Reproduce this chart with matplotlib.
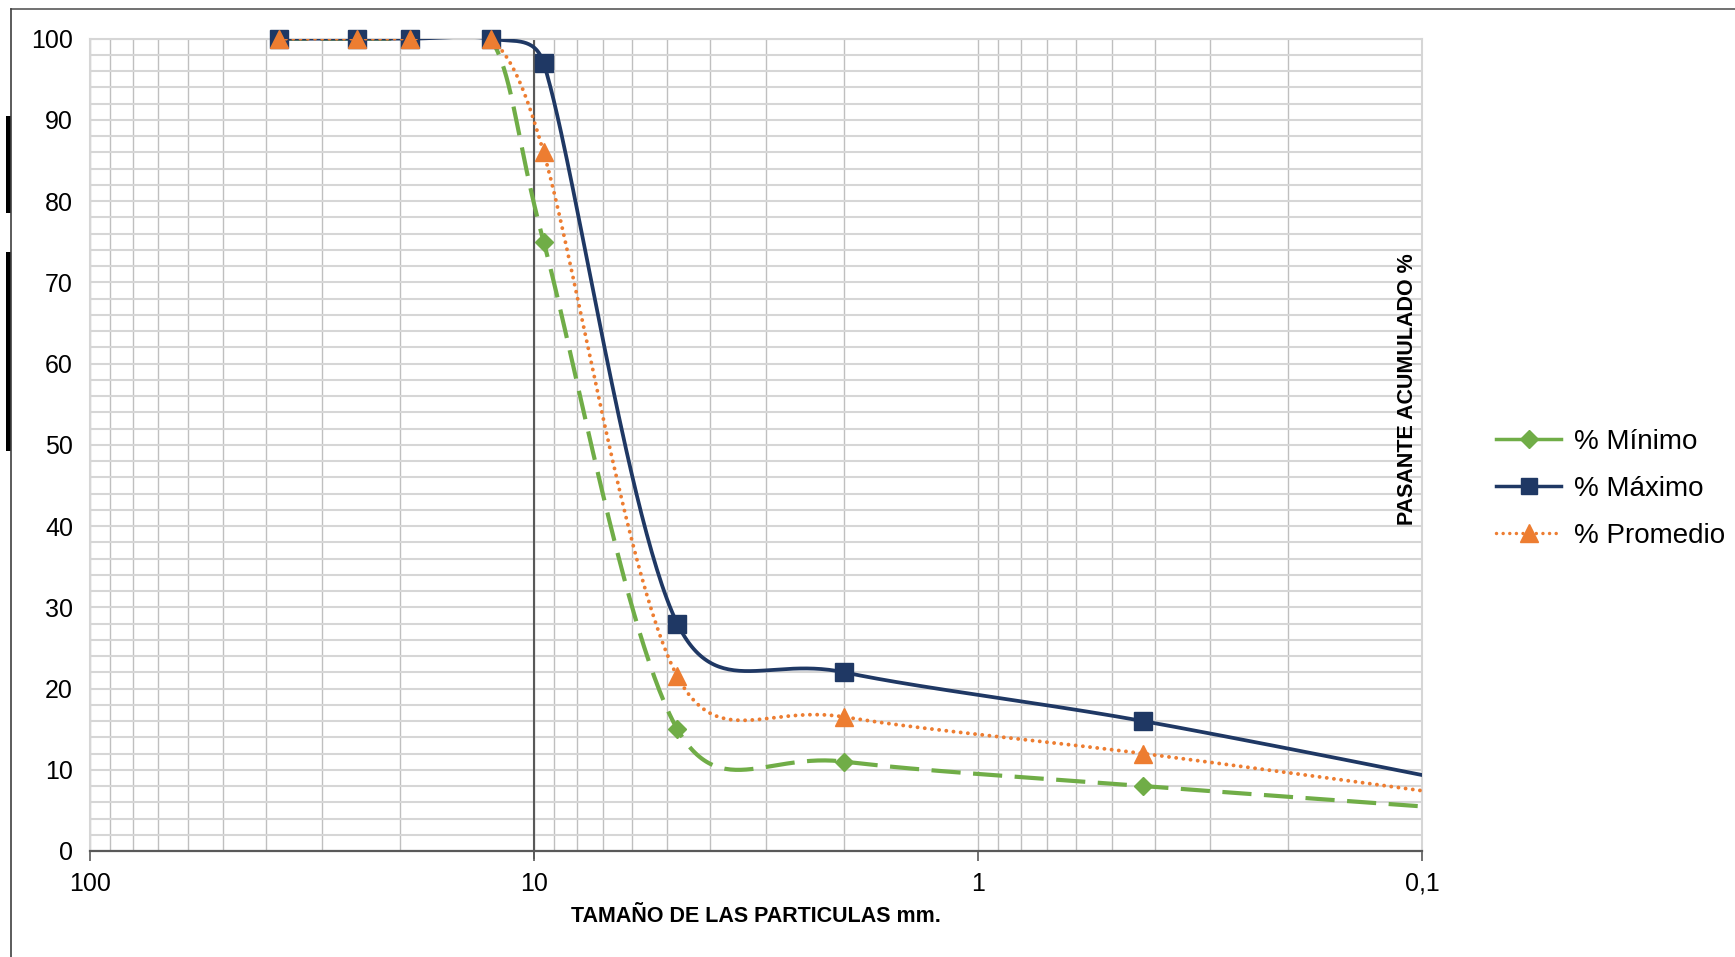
import numpy as np
import matplotlib
matplotlib.use("Agg")
import matplotlib.pyplot as plt
from matplotlib.ticker import FixedLocator, FixedFormatter, MultipleLocator, LogLocator, NullFormatter
from matplotlib.lines import Line2D
from matplotlib.patches import Rectangle

# ---------------- data ----------------
sizes_mm = [37.5, 25, 19, 12.5, 9.5, 4.75, 2.0, 0.425, 0.075]
pct_min = [100, 100, 100, 100, 75, 15, 11, 8, 5]
pct_max = [100, 100, 100, 100, 97, 28, 22, 16, 8]
pct_prom = [100, 100, 100, 100, 86, 21.5, 16.5, 12, 6.5]
series_names = ["% Mínimo", "% Máximo", "% Promedio"]
xtick_vals = [100, 10, 1, 0.1]
xtick_labels = ["100", "10", "1", "0,1"]
ytick_vals = [0, 10, 20, 30, 40, 50, 60, 70, 80, 90, 100]
xlabel = "TAMAÑO DE LAS PARTICULAS mm."
ylabel = "PASANTE ACUMULADO %"

# ---------------- style ----------------
GREEN = "#70AD47"
NAVY = "#1F3864"
ORANGE = "#ED7D31"
AXC = "#595959"
plt.rcParams["font.family"] = ["Liberation Sans", "DejaVu Sans"]

W, H = 1735, 957
fig = plt.figure(figsize=(W / 100, H / 100), dpi=100)
L, R, T, B = 89.6, 1422, 38.7, 851
ax = fig.add_axes([L / W, 1 - B / H, (R - L) / W, (B - T) / H])
ax.set_xscale("log")
ax.set_xlim(100, 0.1)
ax.set_ylim(0, 100)

ax.xaxis.set_major_locator(FixedLocator(xtick_vals))
ax.xaxis.set_major_formatter(FixedFormatter(xtick_labels))
ax.xaxis.set_minor_locator(LogLocator(base=10, subs=range(2, 10), numticks=20))
ax.xaxis.set_minor_formatter(NullFormatter())
ax.yaxis.set_major_locator(FixedLocator(ytick_vals))
ax.yaxis.set_minor_locator(MultipleLocator(2))
ax.set_axisbelow(True)
ax.grid(which="both", axis="x", color="#bfbfbf", lw=1.0)
ax.grid(which="both", axis="y", color="#d6d6d6", lw=1.5)
ax.tick_params(axis="x", which="minor", length=0)
ax.tick_params(axis="x", which="major", length=7, width=1.2, color=AXC, pad=8, labelsize=18)
ax.tick_params(axis="y", which="both", length=0, pad=12, labelsize=18)
for s in ["left", "right", "top"]:
    ax.spines[s].set_color("#d6d6d6")
    ax.spines[s].set_linewidth(1.5)
ax.spines["bottom"].set_color(AXC)
ax.spines["bottom"].set_linewidth(1.6)

# vertical axis line crossing at 10 with its tick marks
ax.axvline(xtick_vals[1], color=AXC, lw=1.5, zorder=2)
ax.plot(np.full(len(ytick_vals), float(xtick_vals[1])), ytick_vals, ls="none",
        marker=3, ms=5.5, mew=1.2, color=AXC, zorder=2, clip_on=False)


def excel_smooth(xs, ys, n=60):
    P = ax.transData.transform(np.column_stack([xs, ys]))
    out = [P[0]]
    m = len(P)
    t = np.linspace(0, 1, n)[1:, None]
    for i in range(m - 1):
        p0 = P[i - 1] if i > 0 else P[i]
        p1, p2 = P[i], P[i + 1]
        p3 = P[i + 2] if i + 2 < m else P[i + 1]
        d12 = np.hypot(*(p2 - p1))
        d02 = np.hypot(*(p2 - p0))
        d13 = np.hypot(*(p3 - p1))
        f0 = f3 = 1 / 6
        if d02 > 0 and d02 / 6 >= d12 / 2:
            f0 = d12 / d02 / 2
        if d13 > 0 and d13 / 6 >= d12 / 2:
            f3 = d12 / d13 / 2
        c1 = p1 + f0 * (p2 - p0)
        c2 = p2 - f3 * (p3 - p1)
        Bz = (1 - t) ** 3 * p1 + 3 * (1 - t) ** 2 * t * c1 + 3 * (1 - t) * t ** 2 * c2 + t ** 3 * p2
        out.extend(Bz)
    out = ax.transData.inverted().transform(np.array(out))
    return out[:, 0], out[:, 1]


xmin_vis = min(ax.get_xlim())
specs = [
    (pct_min, GREEN, 3.0, dict(dashes=(7.0, 3.0)), "D", 9.5, 3),
    (pct_max, NAVY, 2.7, dict(ls="-"), "s", 12.5, 4),
    (pct_prom, ORANGE, 2.8, dict(dashes=(0.01, 1.85), dash_capstyle="round"), "^", 13.5, 5),
]
for vals, col, lw, lstyle, mk, ms, z in specs:
    sx, sy = excel_smooth(sizes_mm, vals)
    ax.plot(sx, sy, color=col, lw=lw, zorder=z, **lstyle)
    vis = [(s, v) for s, v in zip(sizes_mm, vals) if s >= xmin_vis]
    ax.plot([p[0] for p in vis], [p[1] for p in vis], ls="none", marker=mk, ms=ms,
            color=col, mec=col, zorder=z + 0.5, clip_on=False)

handles = [
    Line2D([], [], color=GREEN, lw=2.5, marker="D", ms=9),
    Line2D([], [], color=NAVY, lw=2.5, marker="s", ms=12),
    Line2D([], [], color=ORANGE, lw=2.5, dashes=(0.01, 1.9), dash_capstyle="round", marker="^", ms=13),
]
fig.legend(handles, series_names, loc="center left", bbox_to_anchor=(1496 / W, 1 - 489 / H),
           frameon=False, fontsize=20, handlelength=2.35, handletextpad=0.45,
           labelspacing=0.76, borderpad=0, borderaxespad=0)

fig.text(756 / W, 1 - 917 / H, xlabel, ha="center", va="center", fontsize=15.5, fontweight="bold")
fig.text(1407 / W, 1 - 389 / H, ylabel, ha="center", va="center", rotation=90,
         fontsize=15.5, fontweight="bold")

# outer chart border (partially visible) and left-edge marks
fig.add_artist(Line2D([11 / W, 1], [1 - 9 / H, 1 - 9 / H], color=AXC, lw=1.2))
fig.add_artist(Line2D([11 / W, 11 / W], [0, 1 - 9 / H], color="#404040", lw=1.2))
fig.add_artist(Rectangle((6 / W, 1 - 213 / H), 4.5 / W, 97 / H, color="black", lw=0))
fig.add_artist(Rectangle((6 / W, 1 - 451 / H), 4.5 / W, 199 / H, color="black", lw=0))

fig.savefig("out.png", dpi=100)
